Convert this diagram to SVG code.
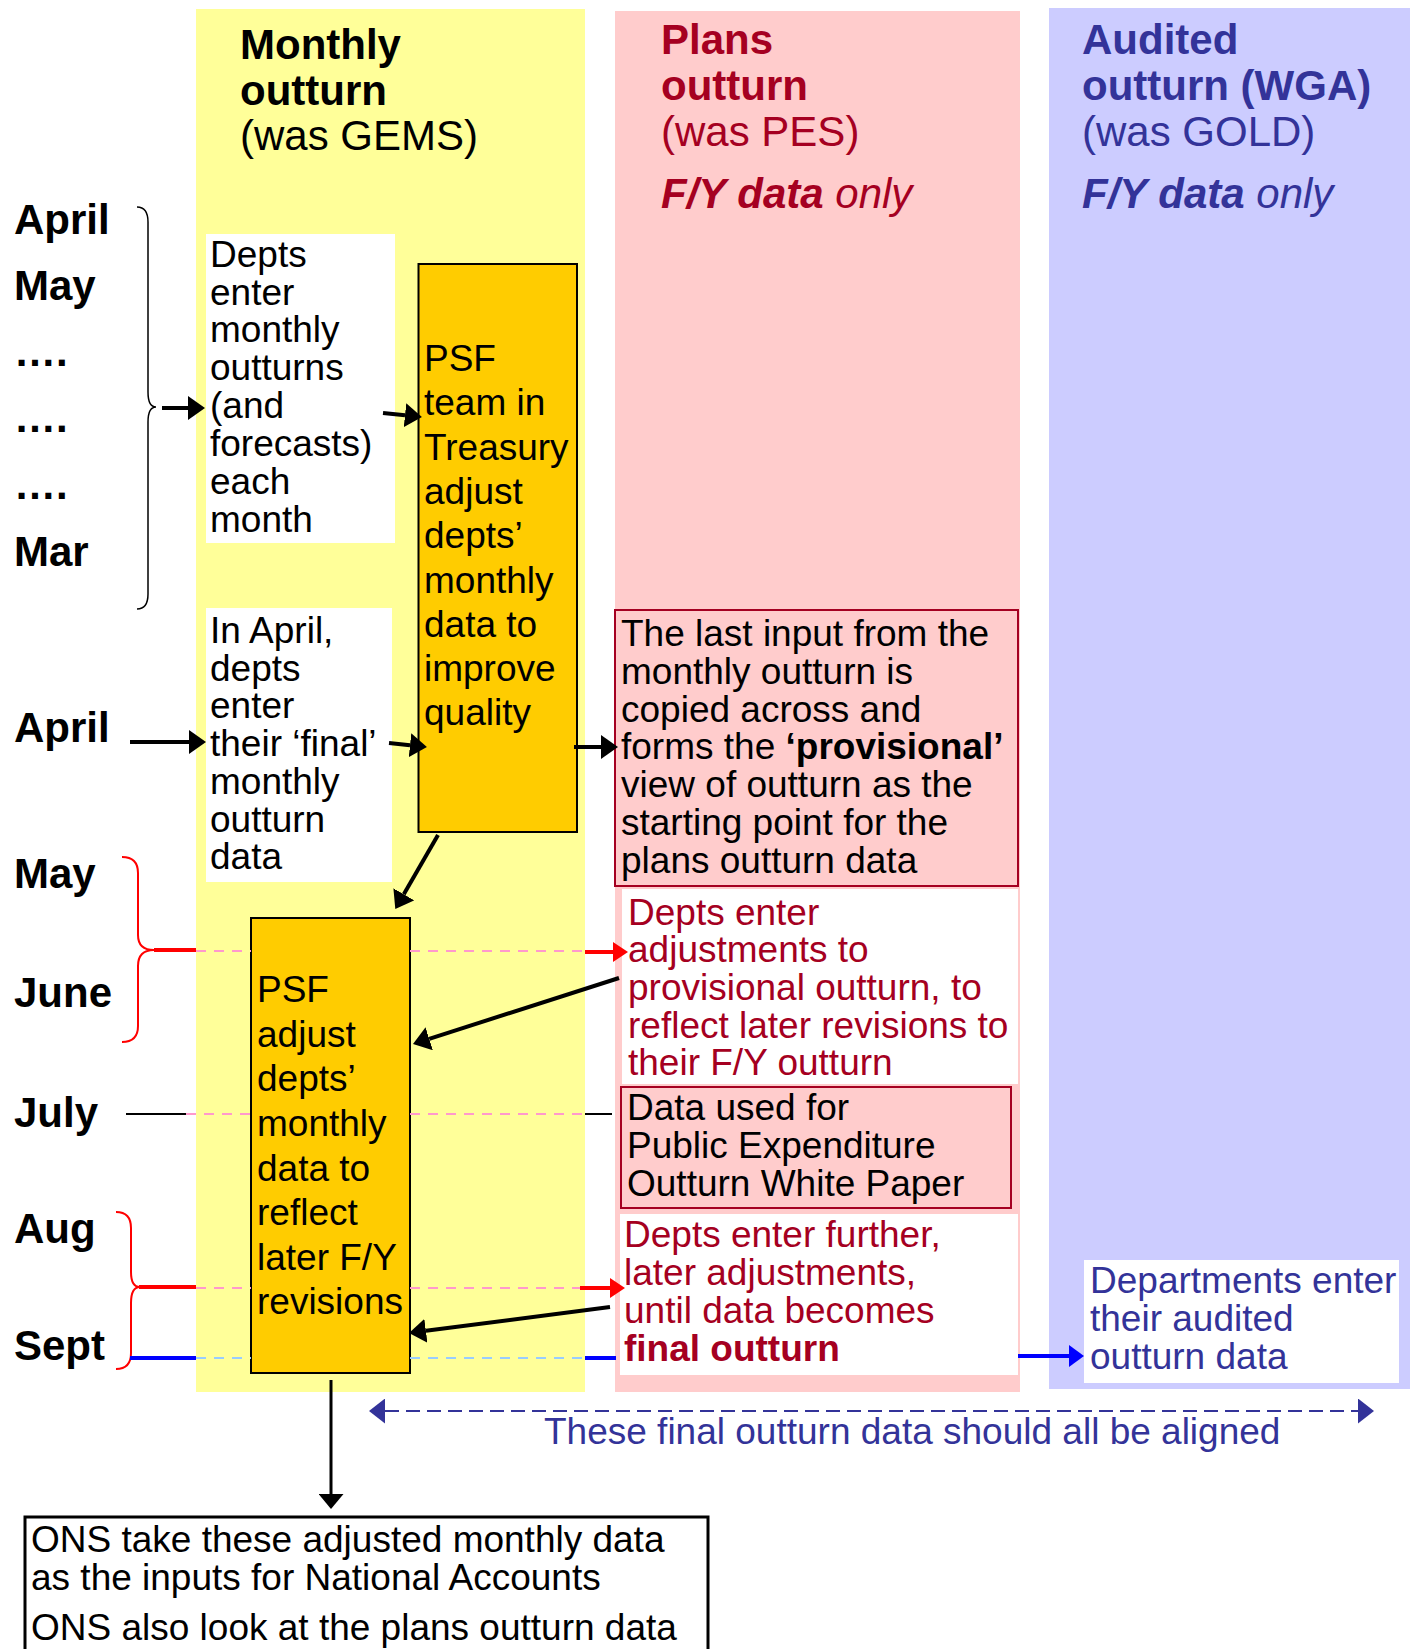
<svg xmlns="http://www.w3.org/2000/svg" width="1410" height="1649" viewBox="0 0 1410 1649">
<style>
text{font-family:"Liberation Sans",Arial,sans-serif;}
.hd{font-size:42px;font-weight:bold;}
.hr{font-size:42px;font-weight:normal;}
.mon{font-size:42px;font-weight:bold;fill:#000;}
.b37{font-size:37px;fill:#000;}
.r37{font-size:37px;fill:#A50021;}
.u37{font-size:37px;fill:#333399;}
.red{fill:#A50021;}
.blu{fill:#333399;}
.orange{fill:#FFCC00;stroke:#000;stroke-width:2;}
.pbox{fill:#FFCCCC;stroke:#A50021;stroke-width:2;}
.wbox{fill:#FFFFFF;}
.arr{stroke:#000;stroke-width:4;fill:none;}
.rarr{stroke:#FF0000;stroke-width:4;fill:none;}
.barr{stroke:#0000FF;stroke-width:4;fill:none;}
.pdash{stroke:#FF99CC;stroke-width:2;stroke-dasharray:10 8;fill:none;}
.bdash{stroke:#99CCFF;stroke-width:2;stroke-dasharray:10 8;fill:none;}
</style>
<defs>
<marker id="hb" viewBox="0 0 17 24" refX="0" refY="12" markerWidth="17" markerHeight="24" markerUnits="userSpaceOnUse" orient="auto"><path d="M0,0 L17,12 L0,24 z" fill="#000"/></marker>
<marker id="hbig" viewBox="0 0 15 25" refX="0" refY="12.5" markerWidth="15" markerHeight="25" markerUnits="userSpaceOnUse" orient="auto"><path d="M0,0 L15,12.5 L0,25 z" fill="#000"/></marker>
<marker id="hr" viewBox="0 0 15 20" refX="0" refY="10" markerWidth="15" markerHeight="20" markerUnits="userSpaceOnUse" orient="auto"><path d="M0,0 L15,10 L0,20 z" fill="#FF0000"/></marker>
<marker id="hbl" viewBox="0 0 15 22" refX="0" refY="11" markerWidth="15" markerHeight="22" markerUnits="userSpaceOnUse" orient="auto"><path d="M0,0 L15,11 L0,22 z" fill="#0000FF"/></marker>
<marker id="hn" viewBox="0 0 16 25" refX="0" refY="12.5" markerWidth="16" markerHeight="25" markerUnits="userSpaceOnUse" orient="auto-start-reverse"><path d="M0,0 L16,12.5 L0,25 z" fill="#333399"/></marker>
</defs>

<rect width="1410" height="1649" fill="#FFFFFF"/>

<!-- columns -->
<g id="col-monthly">
<rect x="196" y="9" width="389" height="1383" fill="#FFFF99"/>
<text x="240" y="59" class="hd">Monthly</text>
<text x="240" y="105" class="hd">outturn</text>
<text x="240" y="150" class="hr">(was GEMS)</text>
</g>
<g id="col-plans">
<rect x="615" y="11" width="405" height="1381" fill="#FFCCCC"/>
<text x="661" y="54" class="hd red">Plans</text>
<text x="661" y="100" class="hd red">outturn</text>
<text x="661" y="146" class="hr red">(was PES)</text>
<text x="661" y="208" class="hd red" font-style="italic">F/Y data <tspan font-weight="normal">only</tspan></text>
</g>
<g id="col-audited">
<rect x="1049" y="8" width="361" height="1381" fill="#CCCCFF"/>
<text x="1082" y="54" class="hd blu">Audited</text>
<text x="1082" y="100" class="hd blu">outturn (WGA)</text>
<text x="1082" y="146" class="hr blu">(was GOLD)</text>
<text x="1082" y="208" class="hd blu" font-style="italic">F/Y data <tspan font-weight="normal">only</tspan></text>
</g>

<!-- month labels -->
<g id="months">
<text x="14" y="234" class="mon">April</text>
<text x="14" y="300" class="mon">May</text>
<text x="14" y="366" class="mon">….</text>
<text x="14" y="432" class="mon">….</text>
<text x="14" y="499" class="mon">….</text>
<text x="14" y="566" class="mon">Mar</text>
<text x="14" y="742" class="mon">April</text>
<text x="14" y="888" class="mon">May</text>
<text x="14" y="1007" class="mon">June</text>
<text x="14" y="1127" class="mon">July</text>
<text x="14" y="1243" class="mon">Aug</text>
<text x="14" y="1360" class="mon">Sept</text>
</g>

<!-- nodes -->
<g id="box-monthly-entry">
<rect x="206" y="234" width="189" height="309" class="wbox"/>
<text class="b37"><tspan x="210" y="267">Depts</tspan><tspan x="210" y="305">enter</tspan><tspan x="210" y="342">monthly</tspan><tspan x="210" y="380">outturns</tspan><tspan x="210" y="418">(and</tspan><tspan x="210" y="456">forecasts)</tspan><tspan x="210" y="494">each</tspan><tspan x="210" y="532">month</tspan></text>
</g>
<g id="box-psf-improve">
<rect x="418.5" y="264" width="158.5" height="568" class="orange"/>
<text class="b37"><tspan x="424" y="371">PSF</tspan><tspan x="424" y="415">team in</tspan><tspan x="424" y="460">Treasury</tspan><tspan x="424" y="504">adjust</tspan><tspan x="424" y="548">depts’</tspan><tspan x="424" y="593">monthly</tspan><tspan x="424" y="637">data to</tspan><tspan x="424" y="681">improve</tspan><tspan x="424" y="725">quality</tspan></text>
</g>
<g id="box-april-final">
<rect x="206" y="608" width="186" height="274" class="wbox"/>
<text class="b37"><tspan x="210" y="643">In April,</tspan><tspan x="210" y="681">depts</tspan><tspan x="210" y="718">enter</tspan><tspan x="210" y="756">their ‘final’</tspan><tspan x="210" y="794">monthly</tspan><tspan x="210" y="832">outturn</tspan><tspan x="210" y="869">data</tspan></text>
</g>
<g id="box-psf-reflect">
<rect x="251" y="918" width="159" height="455" class="orange"/>
<text class="b37"><tspan x="257" y="1002">PSF</tspan><tspan x="257" y="1047">adjust</tspan><tspan x="257" y="1091">depts’</tspan><tspan x="257" y="1136">monthly</tspan><tspan x="257" y="1181">data to</tspan><tspan x="257" y="1225">reflect</tspan><tspan x="257" y="1270">later F/Y</tspan><tspan x="257" y="1314">revisions</tspan></text>
</g>
<g id="box-provisional">
<rect x="615" y="610" width="403" height="276" class="pbox"/>
<text class="b37"><tspan x="621" y="646">The last input from the</tspan><tspan x="621" y="684">monthly outturn is</tspan><tspan x="621" y="722">copied across and</tspan><tspan x="621" y="759">forms the <tspan font-weight="bold">‘provisional’</tspan></tspan><tspan x="621" y="797">view of outturn as the</tspan><tspan x="621" y="835">starting point for the</tspan><tspan x="621" y="873">plans outturn data</tspan></text>
</g>
<g id="box-adjustments">
<rect x="622" y="889" width="396" height="195" class="wbox"/>
<text class="r37"><tspan x="628" y="925">Depts enter</tspan><tspan x="628" y="962">adjustments to</tspan><tspan x="628" y="1000">provisional outturn, to</tspan><tspan x="628" y="1038">reflect later revisions to</tspan><tspan x="628" y="1075">their F/Y outturn</tspan></text>
</g>
<g id="box-white-paper">
<rect x="621" y="1087" width="390" height="121" class="pbox"/>
<text class="b37"><tspan x="627" y="1120">Data used for</tspan><tspan x="627" y="1158">Public Expenditure</tspan><tspan x="627" y="1196">Outturn White Paper</tspan></text>
</g>
<g id="box-further">
<rect x="620" y="1214" width="398" height="161" class="wbox"/>
<text class="r37"><tspan x="624" y="1247">Depts enter further,</tspan><tspan x="624" y="1285">later adjustments,</tspan><tspan x="624" y="1323">until data becomes</tspan><tspan x="624" y="1361" font-weight="bold">final outturn</tspan></text>
</g>
<g id="box-audited">
<rect x="1084" y="1260" width="315" height="123" class="wbox"/>
<text class="u37"><tspan x="1090" y="1293">Departments enter</tspan><tspan x="1090" y="1331">their audited</tspan><tspan x="1090" y="1369">outturn data</tspan></text>
</g>
<g id="note-aligned">
<text x="544" y="1444" class="u37">These final outturn data should all be aligned</text>
</g>
<g id="box-ons">
<rect x="25" y="1517" width="683" height="160" fill="#FFFFFF" stroke="#000" stroke-width="3"/>
<text class="b37"><tspan x="31" y="1552">ONS take these adjusted monthly data</tspan><tspan x="31" y="1590">as the inputs for National Accounts</tspan><tspan x="31" y="1640">ONS also look at the plans outturn data</tspan></text>
</g>

<!-- connectors -->
<g id="connectors">
<!-- braces -->
<path d="M137,207 Q148,207 148,222 L148,392 Q148,407 156,407 Q148,407 148,422 L148,594 Q148,609 137,609" stroke="#000" stroke-width="1.5" fill="none"/>
<path d="M122,857 Q138,857 138,873 L138,935 Q138,950 154,950 Q138,950 138,966 L138,1026 Q138,1042 122,1042" stroke="#FF0000" stroke-width="2" fill="none"/>
<path d="M116,1212 Q131,1212 131,1228 L131,1272 Q131,1287 140,1287 Q131,1287 131,1303 L131,1353 Q131,1369 116,1369" stroke="#FF0000" stroke-width="2" fill="none"/>

<!-- timeline lines -->
<line x1="154" y1="950" x2="196" y2="950" stroke="#FF0000" stroke-width="4"/>
<path d="M196,951 H251 M410,951 H585" class="pdash"/>
<line x1="126" y1="1114" x2="196" y2="1114" stroke="#000" stroke-width="2"/>
<path d="M186,1114 H251 M410,1114 H585" class="pdash"/>
<line x1="585" y1="1114" x2="612" y2="1114" stroke="#000" stroke-width="2"/>
<line x1="139" y1="1287" x2="196" y2="1287" stroke="#FF0000" stroke-width="4"/>
<path d="M196,1288 H251 M410,1288 H580" class="pdash"/>
<line x1="130" y1="1358" x2="196" y2="1358" stroke="#0000FF" stroke-width="4"/>
<path d="M196,1358 H251 M410,1358 H585" class="bdash"/>
<line x1="585" y1="1358" x2="616" y2="1358" stroke="#0000FF" stroke-width="4"/>

<!-- arrows -->
<path d="M162,408 L188,408" class="arr" marker-end="url(#hb)"/>
<path d="M383,413 L405,415.3" class="arr" marker-end="url(#hb)"/>
<path d="M130,742 L189,742" class="arr" marker-end="url(#hb)"/>
<path d="M389,743 L410,745.2" class="arr" marker-end="url(#hb)"/>
<path d="M574,747 L601,747" class="arr" marker-end="url(#hb)"/>
<path d="M438,835 L403.8,894.3" class="arr" marker-end="url(#hb)"/>
<path d="M619,978 L429.2,1038.8" class="arr" marker-end="url(#hb)"/>
<path d="M610,1307 L425.9,1330.8" class="arr" marker-end="url(#hb)"/>
<path d="M585,952 L613,952" class="rarr" marker-end="url(#hr)"/>
<path d="M580,1288 L610,1288" class="rarr" marker-end="url(#hr)"/>
<path d="M1018,1356 L1069,1356" class="barr" marker-end="url(#hbl)"/>
<path d="M331,1380 L331,1494" stroke="#000" stroke-width="3" fill="none" marker-end="url(#hbig)"/>
<path d="M385,1411 L1358,1411" stroke="#333399" stroke-width="2" stroke-dasharray="14 7" fill="none" marker-start="url(#hn)" marker-end="url(#hn)"/>
</g>
</svg>
